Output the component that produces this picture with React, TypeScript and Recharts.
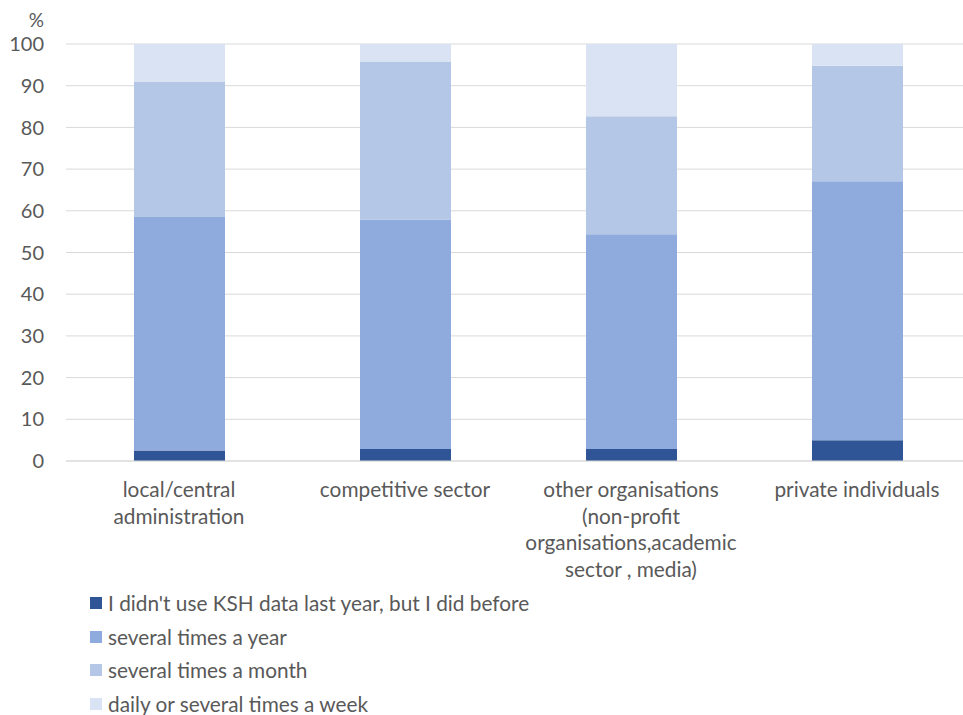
import type { FC } from 'react';
import { Bar, BarChart, CartesianGrid, XAxis, YAxis } from 'recharts';

const categories = [
  'local/central\nadministration',
  'competitive sector',
  'other organisations\n(non-profit\norganisations,academic\nsector , media)',
  'private individuals',
];

const notLastYear = [2.5, 2.9, 2.9, 5.0];
const severalYear = [56.0, 55.0, 51.5, 62.1];
const severalMonth = [32.4, 37.8, 28.3, 27.7];
const dailyWeek = [9.1, 4.3, 17.3, 5.2];

const yTicks = [0, 10, 20, 30, 40, 50, 60, 70, 80, 90, 100];

const seriesInfo = [
  { key: 'notLastYear', name: "I didn't use KSH data last year, but I did before", color: '#2F5597' },
  { key: 'severalYear', name: 'several times a year', color: '#8FAADC' },
  { key: 'severalMonth', name: 'several times a month', color: '#B4C7E7' },
  { key: 'dailyWeek', name: 'daily or several times a week', color: '#DAE3F3' },
];

const FONT = 'Lato, "Liberation Sans", sans-serif';
const TEXT = '#595959';

const data = categories.map((cat, i) => ({
  cat,
  notLastYear: notLastYear[i],
  severalYear: severalYear[i],
  severalMonth: severalMonth[i],
  dailyWeek: dailyWeek[i],
}));

const CategoryTick = (props: any) => {
  const { x, y, payload } = props;
  const lines = String(payload.value).split('\n');
  return (
    <text x={x} y={y} textAnchor="middle" fill={TEXT} fontFamily={FONT} fontSize={20.8}>
      {lines.map((line, i) => (
        <tspan key={i} x={x} dy={i === 0 ? 34 : 26.6}>
          {line}
        </tspan>
      ))}
    </text>
  );
};

// legend drawn as plain html under the plot, one item per row
const LegendBox: FC = () => (
  <div style={{ position: 'absolute', left: 90, top: 586, fontFamily: FONT, fontSize: 20.8, color: TEXT }}>
    {seriesInfo.map((s) => (
      <div key={s.key} style={{ display: 'flex', alignItems: 'center', height: 33.7 }}>
        <span style={{ display: 'inline-block', width: 12, height: 12, background: s.color, marginRight: 6 }} />
        <span style={{ whiteSpace: 'nowrap', lineHeight: '24px' }}>{s.name}</span>
      </div>
    ))}
  </div>
);

const App: FC = () => {
  return (
    <div style={{ position: 'absolute', left: 0, top: 0, width: 963, height: 715, overflow: 'hidden', background: '#fff' }}>
      <div style={{ position: 'absolute', left: 0, top: 8, width: 44, textAlign: 'right', fontFamily: FONT, fontSize: 19, color: TEXT }}>
        %
      </div>
      <BarChart
        width={975}
        height={715}
        data={data}
        margin={{ top: 44, right: 5, bottom: 224, left: 0 }}
        barSize={91}
      >
        <CartesianGrid horizontal vertical={false} stroke="#D9D9D9" />
        <XAxis
          dataKey="cat"
          interval={0}
          height={30}
          tickLine={false}
          tickSize={0}
          axisLine={{ stroke: '#D9D9D9' }}
          tick={<CategoryTick />}
        />
        <YAxis
          width={66}
          domain={[0, 100]}
          ticks={yTicks}
          interval={0}
          axisLine={false}
          tickLine={false}
          tickSize={0}
          tickMargin={22}
          tick={{ fill: TEXT, fontFamily: FONT, fontSize: 20 }}
        />
        {seriesInfo.map((s) => (
          <Bar
            key={s.key}
            dataKey={s.key}
            name={s.name}
            stackId="a"
            fill={s.color}
            isAnimationActive={false}
          />
        ))}
      </BarChart>
      <LegendBox />
    </div>
  );
};

export default App;
